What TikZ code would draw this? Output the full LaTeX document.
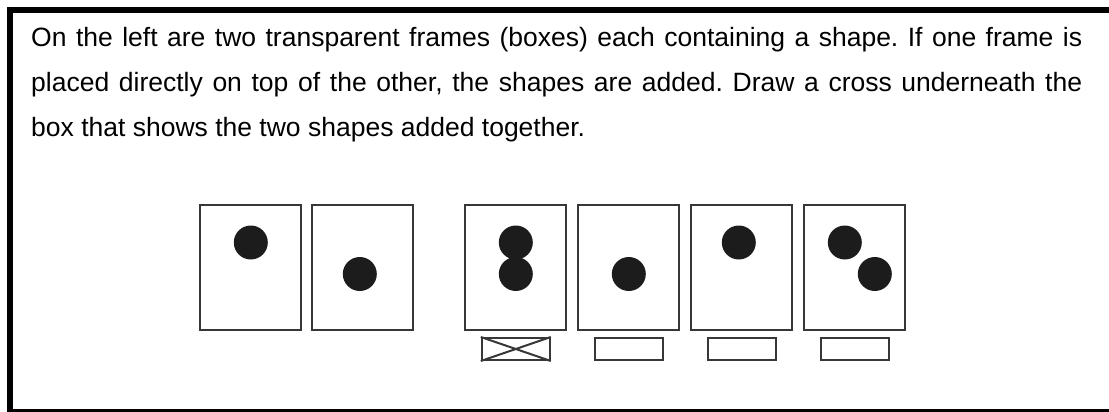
\documentclass[tikz,border=0pt]{standalone}
\usepackage{fontspec}
\setmainfont{Liberation Sans}
\usetikzlibrary{positioning}
\definecolor{framecolor}{RGB}{55,55,55}
\definecolor{dotcolor}{RGB}{28,28,28}
\frenchspacing

\begin{document}
\begin{tikzpicture}[
	x=1pt, y=1pt,
	frame/.style={
		rectangle,
		draw=framecolor,
		line width=2pt,
		minimum width=101pt,
		minimum height=125pt,
		inner sep=0pt
	},
	dot/.style={
		circle,
		fill=dotcolor,
		minimum size=34pt,
		inner sep=0pt
	},
	answer/.style={
		rectangle,
		draw=framecolor,
		line width=2pt,
		minimum width=68pt,
		minimum height=22pt,
		inner sep=0pt
	},
	question/.style={
		text width=1051pt,
		align=justify,
		inner sep=0pt,
		font=\fontsize{26.5}{45}\selectfont
	}
	]
	\useasboundingbox (0,0) rectangle (1109,-412);
	
	% Outer Border
	\draw[line width=6pt] (10,-10) rectangle (1120,-412);
	
	% Question Text
	\node[question, anchor=base west] (question) at (31,-47) {On the left are two transparent frames (boxes) each containing a shape. If one frame is\linebreak placed directly on top of the other, the shapes are added. Draw a cross underneath the\linebreak box that shows the two shapes added together.};
	
	% Given Frames
	\node[frame] (given1) at (250.8,-267.5) {};
	\node[frame, right=9pt of given1] (given2) {};
	\node[dot] (dot1) at ([yshift=25pt]given1.center) {};
	\node[dot] (dot2) at ([xshift=-3pt, yshift=-6.5pt]given2.center) {};
	
	% Answer Frames
	\node[frame, right=50pt of given2] (option1) {};
	\node[frame, right=10pt of option1] (option2) {};
	\node[frame, right=10pt of option2] (option3) {};
	\node[frame, right=10pt of option3] (option4) {};
	
	\node[dot] (dot3a) at ([yshift=25pt]option1.center) {};
	\node[dot] (dot3b) at ([yshift=-6.5pt]option1.center) {};
	\node[dot] (dot4) at ([yshift=-6.5pt]option2.center) {};
	\node[dot] (dot5) at ([xshift=-3pt, yshift=25pt]option3.center) {};
	\node[dot] (dot6a) at ([xshift=-10pt, yshift=25pt]option4.center) {};
	\node[dot] (dot6b) at ([xshift=20pt, yshift=-6.5pt]option4.center) {};
	
	% Tick Boxes
	\node[answer, below=6pt of option1] (tick1) {};
	\node[answer, below=6pt of option2] (tick2) {};
	\node[answer, below=6pt of option3] (tick3) {};
	\node[answer, below=6pt of option4] (tick4) {};
	
	% Cross
	\draw[line width=2pt, color=framecolor] (tick1.north west) -- (tick1.south east);
	\draw[line width=2pt, color=framecolor] (tick1.south west) -- (tick1.north east);
	
\end{tikzpicture}
\end{document}
